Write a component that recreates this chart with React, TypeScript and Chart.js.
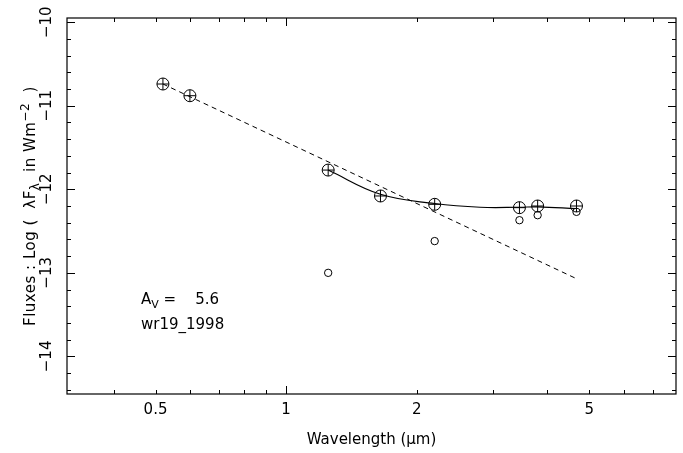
import React, { useEffect, useRef } from 'react';
import { Chart, registerables } from 'chart.js';

Chart.register(...registerables);

// ---- data ----
const wavelengths = [0.52, 0.6, 1.25, 1.65, 2.2, 3.45, 3.8, 4.67];
const dereddenedFlux = [-10.74, -10.88, -11.77, -12.08, -12.18, -12.22, -12.2, -12.2];
const observedWavelengths = [1.25, 2.2, 3.45, 3.8, 4.67];
const observedFlux = [-13.0, -12.62, -12.37, -12.31, -12.27];
const fitWavelengths = [0.52, 4.67];
const fitFlux = [-10.74, -13.07];
const modelWavelengths = [1.25, 1.65, 2.2, 2.8, 3.45, 3.8, 4.67];
const modelFlux = [-11.77, -12.06, -12.17, -12.215, -12.215, -12.21, -12.23];

const xTickLabels = [0.5, 1, 2, 5];
const xMajorTicks = [1];
const xMinorTicks = [0.4, 0.5, 0.6, 0.7, 0.8, 0.9, 2, 3, 4, 5, 6, 7];
const yTickLabels = [-10, -11, -12, -13, -14];
const yMinorTicks = [
  -10.2, -10.4, -10.6, -10.8,
  -11.2, -11.4, -11.6, -11.8,
  -12.2, -12.4, -12.6, -12.8,
  -13.2, -13.4, -13.6, -13.8,
  -14.2, -14.4,
];
const X_MIN = 0.3125;
const X_MAX = 7.92;
const Y_MIN = -14.45;
const Y_MAX = -9.95;
const extinctionAV = '5.6';
const objectName = 'wr19_1998';

const FONT = '"DejaVu Sans", sans-serif';

type Seg = { text: string; size: number; dy: number };

function richWidth(ctx: CanvasRenderingContext2D, segs: Seg[]) {
  let w = 0;
  for (const s of segs) {
    ctx.font = `${s.size}px ${FONT}`;
    w += ctx.measureText(s.text).width;
  }
  return w;
}

function drawRich(ctx: CanvasRenderingContext2D, segs: Seg[], x: number, y: number, align: 'left' | 'center') {
  let cx = x;
  if (align === 'center') cx = x - richWidth(ctx, segs) / 2;
  ctx.textAlign = 'left';
  ctx.textBaseline = 'alphabetic';
  for (const s of segs) {
    ctx.font = `${s.size}px ${FONT}`;
    ctx.fillText(s.text, cx, y + s.dy);
    cx += ctx.measureText(s.text).width;
  }
}

const framePlugin = {
  id: 'framePlugin',
  afterDraw(chart: any) {
    const { ctx, chartArea } = chart;
    const { left, right, top, bottom } = chartArea;
    const xs = chart.scales.x;
    const ys = chart.scales.y;
    ctx.save();
    ctx.strokeStyle = '#000';
    ctx.fillStyle = '#000';
    ctx.lineWidth = 1.2;
    ctx.strokeRect(left, top, right - left, bottom - top);

    ctx.lineWidth = 1;
    ctx.beginPath();
    const xTick = (v: number, len: number) => {
      const px = Math.round(xs.getPixelForValue(v)) + 0.5;
      ctx.moveTo(px, bottom);
      ctx.lineTo(px, bottom - len);
      ctx.moveTo(px, top);
      ctx.lineTo(px, top + len);
    };
    const yTick = (v: number, len: number) => {
      const py = Math.round(ys.getPixelForValue(v)) + 0.5;
      ctx.moveTo(left, py);
      ctx.lineTo(left + len, py);
      ctx.moveTo(right, py);
      ctx.lineTo(right - len, py);
    };
    xMajorTicks.forEach((v) => xTick(v, 8));
    xMinorTicks.forEach((v) => xTick(v, 4));
    yTickLabels.forEach((v) => yTick(v, 8));
    yMinorTicks.forEach((v) => yTick(v, 4));
    ctx.stroke();

    // x tick labels
    ctx.font = `15px ${FONT}`;
    ctx.textAlign = 'center';
    ctx.textBaseline = 'middle';
    xTickLabels.forEach((v) => {
      ctx.fillText(String(v), xs.getPixelForValue(v), 410);
    });

    // y tick labels (rotated)
    yTickLabels.forEach((v) => {
      const py = ys.getPixelForValue(v);
      ctx.save();
      ctx.translate(47, py);
      ctx.rotate(-Math.PI / 2);
      ctx.font = `15px ${FONT}`;
      ctx.textAlign = 'center';
      ctx.textBaseline = 'middle';
      ctx.fillText(String(v).replace('-', '\u2212'), 0, 0);
      ctx.restore();
    });

    // x title
    drawRich(ctx, [{ text: 'Wavelength (\u03bcm)', size: 15, dy: 0 }], (left + right) / 2, 444, 'center');

    // y title
    ctx.save();
    ctx.translate(35, (top + bottom) / 2);
    ctx.rotate(-Math.PI / 2);
    (ctx as any).letterSpacing = '0.5px';
    drawRich(
      ctx,
      [
        { text: 'Fluxes : Log (  \u03bbF', size: 15, dy: 0 },
        { text: '\u03bb', size: 12, dy: 4 },
        { text: '  in Wm', size: 15, dy: 0 },
        { text: '\u22122', size: 12, dy: -6 },
        { text: '  )', size: 15, dy: 0 },
      ],
      0,
      0,
      'center'
    );
    (ctx as any).letterSpacing = '0px';
    ctx.restore();

    // annotations
    drawRich(
      ctx,
      [
        { text: 'A', size: 15, dy: 0 },
        { text: 'V', size: 11, dy: 4 },
        { text: ' =    ' + extinctionAV, size: 15, dy: 0 },
      ],
      141,
      304,
      'left'
    );
    drawRich(ctx, [{ text: objectName, size: 15, dy: 0 }], 141, 329, 'left');
    ctx.restore();
  },
};

export default function App() {
  const ref = useRef<HTMLCanvasElement>(null);
  useEffect(() => {
    const canvas = ref.current!;
    const toPts = (xs: number[], ys: number[]) => xs.map((x, i) => ({ x, y: ys[i] }));
    const chart = new Chart(canvas, {
      type: 'scatter',
      data: {
        datasets: [
          {
            type: 'line',
            data: toPts(fitWavelengths, fitFlux),
            borderColor: '#000',
            borderWidth: 1,
            borderDash: [5, 4],
            pointRadius: 0,
            fill: false,
          } as any,
          {
            type: 'line',
            data: toPts(modelWavelengths, modelFlux),
            borderColor: '#000',
            borderWidth: 1.2,
            pointRadius: 0,
            tension: 0.4,
            fill: false,
          } as any,
          {
            data: toPts(observedWavelengths, observedFlux),
            pointStyle: 'circle',
            pointRadius: 3.7,
            borderColor: '#000',
            backgroundColor: 'rgba(0,0,0,0)',
            borderWidth: 1,
          },
          {
            data: toPts(wavelengths, dereddenedFlux),
            pointStyle: 'circle',
            pointRadius: 6,
            borderColor: '#000',
            backgroundColor: 'rgba(0,0,0,0)',
            borderWidth: 1,
          },
          {
            data: toPts(wavelengths, dereddenedFlux),
            pointStyle: 'cross',
            pointRadius: 6,
            borderColor: '#000',
            borderWidth: 1,
          },
        ],
      },
      options: {
        responsive: false,
        animation: false,
        devicePixelRatio: 1,
        events: [],
        layout: { padding: { left: 67, top: 18, right: 5, bottom: 59 } },
        plugins: { legend: { display: false }, tooltip: { enabled: false } },
        scales: {
          x: { type: 'logarithmic', min: X_MIN, max: X_MAX, bounds: 'data', display: false },
          y: { type: 'linear', min: Y_MIN, max: Y_MAX, bounds: 'data', display: false },
        },
      },
      plugins: [framePlugin],
    });
    return () => chart.destroy();
  }, []);
  return (
    <canvas
      ref={ref}
      width={683}
      height={453}
      style={{ position: 'fixed', left: 0, top: 0, width: 683, height: 453 }}
    />
  );
}
